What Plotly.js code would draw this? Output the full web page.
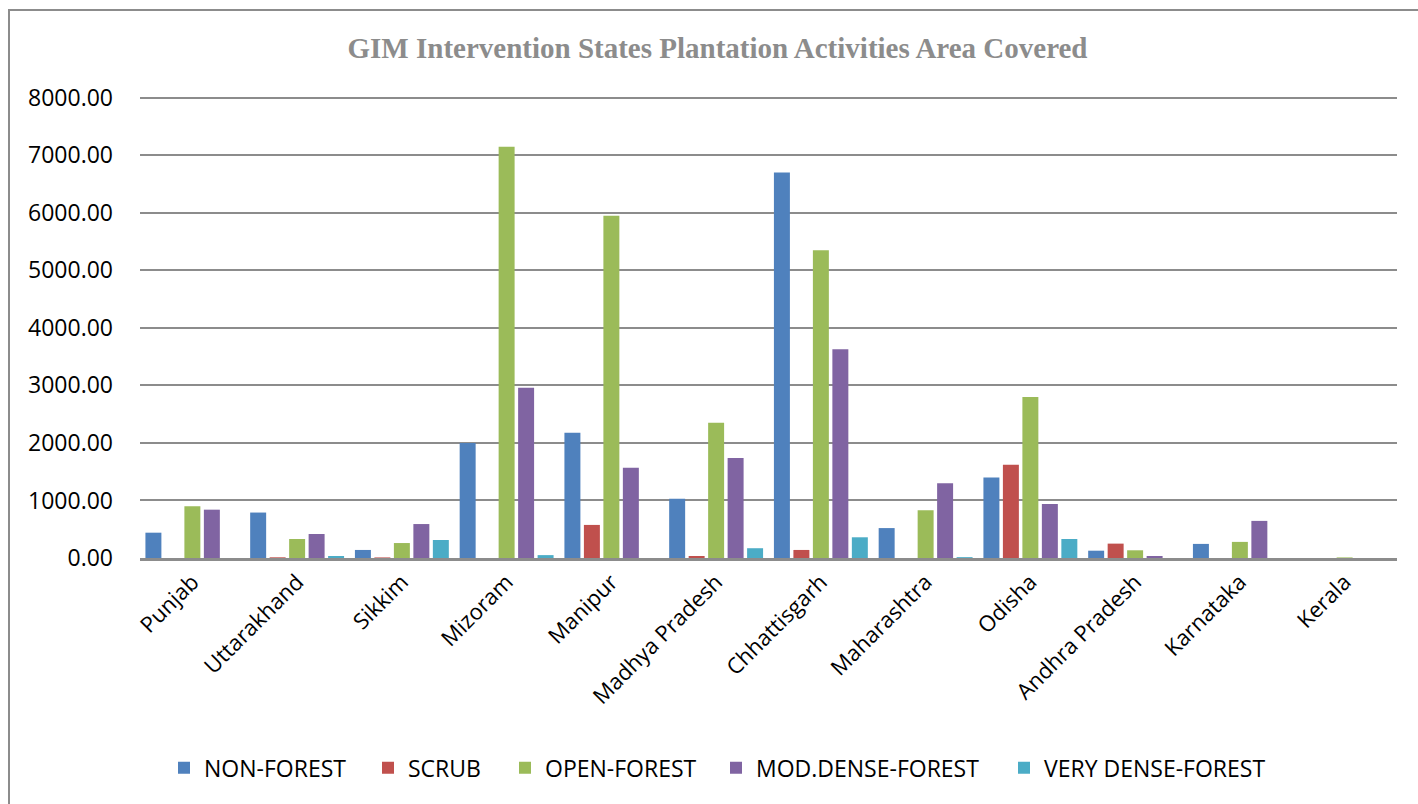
<!DOCTYPE html>
<html>
<head>
<meta charset="utf-8">
<script src="https://cdn.plot.ly/plotly-3.0.1.min.js"></script>
<style>
html,body{margin:0;padding:0;background:#fff;}
#wrap{position:relative;width:1418px;height:804px;overflow:hidden;}
#chart{width:1418px;height:804px;}
#frame{position:absolute;left:8px;top:9px;width:1500px;height:900px;border-left:2px solid #8c8c8c;border-top:2px solid #8c8c8c;pointer-events:none;}
</style>
</head>
<body>
<div id="wrap"><div id="chart"></div><div id="frame"></div></div>
<script>
const states = ["Punjab","Uttarakhand","Sikkim","Mizoram","Manipur","Madhya Pradesh","Chhattisgarh","Maharashtra","Odisha","Andhra Pradesh","Karnataka","Kerala"];
const nonForest    = [440, 790, 140, 2000, 2175, 1030, 6700, 520, 1400, 127, 245, 0];
const scrub        = [0, 12, 10, 0, 575, 35, 140, 0, 1620, 250, 0, 0];
const openForest   = [900, 330, 260, 7150, 5950, 2350, 5350, 830, 2800, 134, 280, 10];
const modDense     = [840, 417, 590, 2960, 1570, 1740, 3630, 1300, 940, 35, 645, 0];
const veryDense    = [0, 35, 313, 50, 0, 170, 360, 15, 330, 0, 0, 0];
const yTicks       = [0, 1000, 2000, 3000, 4000, 5000, 6000, 7000, 8000];

const seriesNames = ["NON-FOREST","SCRUB","OPEN-FOREST","MOD.DENSE-FOREST","VERY DENSE-FOREST"];
const seriesVals = [nonForest, scrub, openForest, modDense, veryDense];
const colors = ["#4F81BD","#C0504D","#9BBB59","#8064A2","#4BACC6"];
// left pixel positions of each legend entry (container coords)
const legendLeft = [164, 368, 505, 716, 1004];

const traces = seriesVals.map((v,i)=>({
  type:'bar', name:seriesNames[i], x:states, y:v,
  legend: i===0 ? 'legend' : 'legend'+(i+1),
  marker:{color:colors[i]}
}));

const layout = {
  width:1418, height:804,
  paper_bgcolor:'#fff', plot_bgcolor:'#fff',
  margin:{l:140, r:21, t:96, b:246},
  barmode:'group', bargap:0.07, bargroupgap:0.18,
  title:{text:'<b>GIM Intervention States Plantation Activities Area Covered</b>', x:0.506, xref:'container', y:0.94, yref:'container', yanchor:'middle',
         font:{family:'Liberation Serif, Times New Roman, serif', size:29, color:'#8c8c8c'}},
  font:{family:'Open Sans, sans-serif', color:'#000'},
  xaxis:{type:'category', tickangle:-45, tickfont:{size:22, color:'#000'}, showgrid:false,
         showline:true, linecolor:'#8c8c8c', linewidth:2.5, ticks:'', automargin:false},
  yaxis:{range:[0,8030], tickvals:yTicks, tickformat:'.2f', tickfont:{size:23, color:'#000'},
         showgrid:true, gridcolor:'#8c8c8c', gridwidth:2, zeroline:false, showline:false,
         ticks:'', ticklabelstandoff:26, automargin:false, fixedrange:true},
  showlegend:true
};
legendLeft.forEach((px,i)=>{
  const key = i===0 ? 'legend' : 'legend'+(i+1);
  layout[key] = {orientation:'h', x:px/1418, xref:'container', xanchor:'left', yref:'container', y:0.045, yanchor:'middle',
                 font:{size:23, color:'#000'}, itemwidth:30, bgcolor:'rgba(0,0,0,0)', borderwidth:0};
});

Plotly.newPlot('chart', traces, layout, {displayModeBar:false, staticPlot:true});
</script>
</body>
</html>
